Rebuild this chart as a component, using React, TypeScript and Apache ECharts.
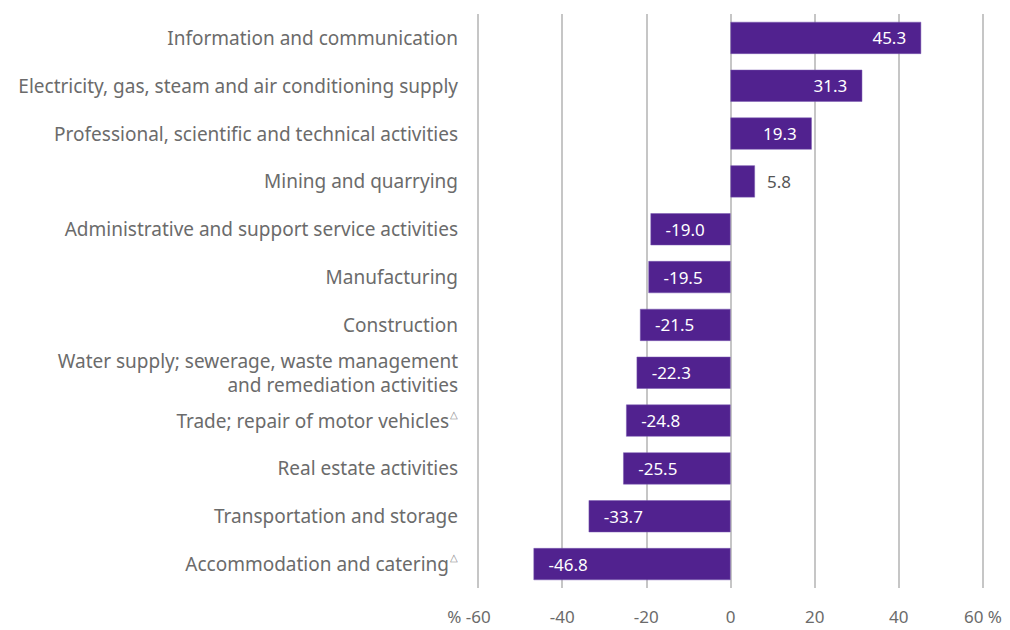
import React, { useEffect, useRef } from "react";
import * as echarts from "echarts";

const categories: string[] = [
  "Information and communication",
  "Electricity, gas, steam and air conditioning supply",
  "Professional, scientific and technical activities",
  "Mining and quarrying",
  "Administrative and support service activities",
  "Manufacturing",
  "Construction",
  "Water supply; sewerage, waste management\nand remediation activities",
  "Trade; repair of motor vehicles△",
  "Real estate activities",
  "Transportation and storage",
  "Accommodation and catering△",
];

const values: number[] = [45.3, 31.3, 19.3, 5.8, -19.0, -19.5, -21.5, -22.3, -24.8, -25.5, -33.7, -46.8];

const xMin = -60;
const xMax = 60;
const xStep = 20;

const FONT = "'Noto Sans', sans-serif";
const BAR = "#51228f";
const TEXT = "#6b6b6b";

export default function App() {
  const ref = useRef<HTMLDivElement>(null);
  useEffect(() => {
    if (!ref.current) return;
    const chart = echarts.init(ref.current, undefined, { renderer: "svg" });
    const data = values.map((v) => {
      const outside = v > 0 && v < 10;
      return {
        value: v,
        label: {
          position: v < 0 ? "insideLeft" : outside ? "right" : "insideRight",
          distance: outside ? 12 : 15,
          color: outside ? "#555555" : "#ffffff",
        },
      };
    });
    chart.setOption({
      animation: false,
      textStyle: { fontFamily: FONT },
      grid: { left: 478, right: 27, top: 14, bottom: 42, containLabel: false },
      xAxis: {
        type: "value",
        min: xMin,
        max: xMax,
        interval: xStep,
        axisLine: { show: false },
        axisTick: { show: false },
        splitLine: { show: true, lineStyle: { color: "#b3b3b3", width: 1.5 } },
        axisLabel: {
          margin: 20,
          fontSize: 17,
          color: TEXT,
          fontFamily: FONT,
          formatter: (v: number) => {
            if (v === xMin) return "{u|% }" + v + "{sp|}";
            if (v === xMax) return v + " %";
            return String(v);
          },
          rich: {
            u: { fontSize: 17, color: TEXT, fontFamily: FONT },
            sp: { width: 18 },
          },
        },
      },
      yAxis: {
        type: "category",
        data: categories,
        inverse: true,
        axisLine: { show: false },
        axisTick: { show: false },
        splitLine: { show: false },
        axisLabel: {
          margin: 20,
          fontSize: 19,
          color: TEXT,
          fontFamily: FONT,
          lineHeight: 24,
          formatter: (v: string) => {
            if (v.endsWith("△")) {
              return "{n|" + v.slice(0, -1) + "}{sup|△}";
            }
            return v;
          },
          rich: {
            n: { fontSize: 19, color: TEXT, fontFamily: FONT, lineHeight: 24 },
            sup: { fontSize: 10, color: "#8a8a8a", verticalAlign: "top", lineHeight: 24, padding: [0, 0, 12, 1] },
          },
        },
      },
      series: [
        {
          type: "bar",
          data,
          barWidth: 32,
          itemStyle: { color: BAR, borderColor: "#7a5bb0", borderWidth: 0.5 },
          label: {
            show: true,
            fontSize: 17,
            fontFamily: FONT,
            formatter: (p: any) => Number(p.value).toFixed(1),
          },
        },
      ],
    });
    return () => chart.dispose();
  }, []);
  return (
    <div
      ref={ref}
      style={{ position: "fixed", left: 0, top: 0, width: 1010, height: 630, background: "#ffffff" }}
    />
  );
}
